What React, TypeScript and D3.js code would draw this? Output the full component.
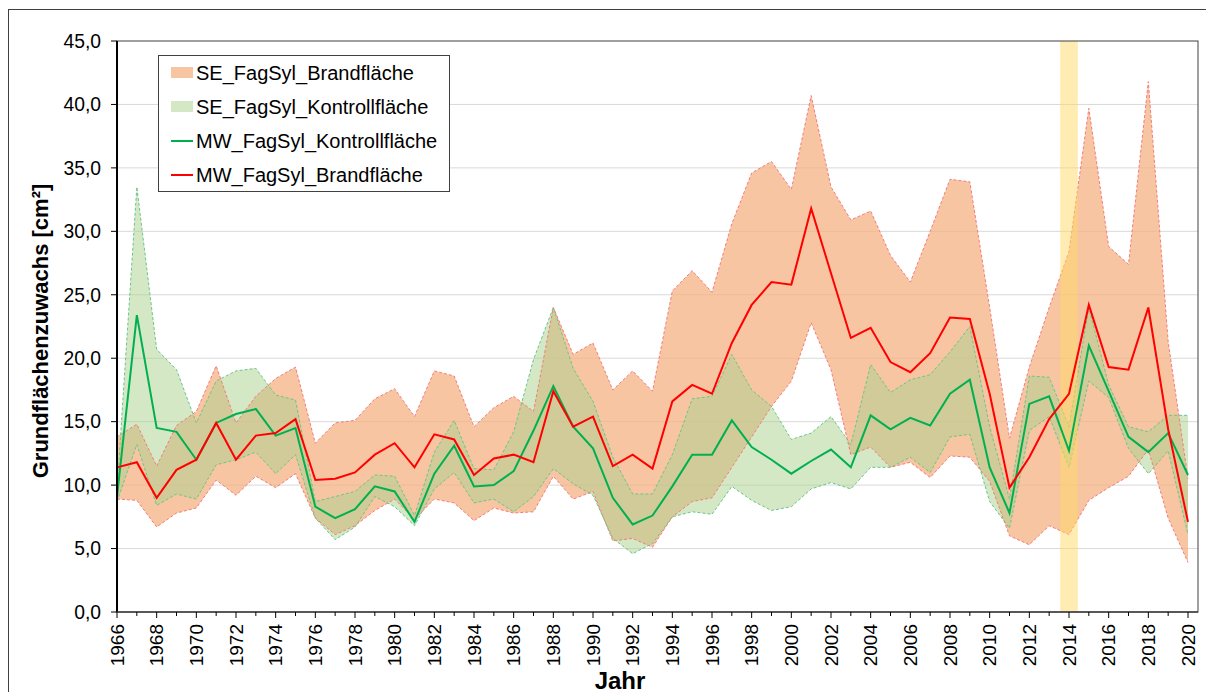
import React, { useEffect, useRef } from 'react';
import * as d3 from 'd3';

// Jahre 1966 - 2020
const years: number[] = d3.range(1966, 2021);

// MW = Mittelwert, SE = Streubereich (oben / unten)
const mwBrand: number[] = [
    11.4, 11.8, 9.0, 11.2, 12.0, 14.9, 12.0, 13.9, 14.1, 15.2,
    10.4, 10.5, 11.0, 12.4, 13.3, 11.4, 14.0, 13.6, 10.8, 12.1,
    12.4, 11.8, 17.4, 14.6, 15.4, 11.5, 12.4, 11.3, 16.6, 17.9,
    17.2, 21.2, 24.2, 26.0, 25.8, 31.8, 26.7, 21.6, 22.4, 19.7,
    18.9, 20.4, 23.2, 23.1, 17.2, 9.8, 12.2, 15.2, 17.2, 24.2,
    19.3, 19.1, 24.0, 14.4, 7.1,
];
const mwKontroll: number[] = [
    9.1, 23.4, 14.5, 14.2, 12.0, 14.9, 15.6, 16.0, 13.9, 14.5,
    8.3, 7.4, 8.1, 9.9, 9.5, 7.1, 10.9, 13.1, 9.9, 10.0,
    11.1, 14.3, 17.8, 14.6, 12.9, 9.0, 6.9, 7.6, 9.9, 12.4,
    12.4, 15.1, 13.0, 12.0, 10.9, 11.9, 12.8, 11.4, 15.5, 14.4,
    15.3, 14.7, 17.2, 18.3, 11.4, 7.8, 16.4, 17.0, 12.7, 21.0,
    17.4, 13.8, 12.6, 14.1, 10.8,
];
const seBrandHi: number[] = [
    13.8, 14.8, 11.5, 14.7, 15.8, 19.4, 14.9, 17.0, 18.4, 19.3,
    13.3, 14.9, 15.1, 16.8, 17.6, 15.4, 19.0, 18.6, 14.6, 16.1,
    17.0, 15.8, 24.0, 20.3, 21.2, 17.5, 19.0, 17.4, 25.3, 26.9,
    25.2, 30.6, 34.6, 35.5, 33.3, 40.7, 33.5, 30.9, 31.6, 28.1,
    26.0, 30.0, 34.1, 33.9, 24.0, 13.7, 19.3, 24.0, 28.4, 39.7,
    28.8, 27.4, 41.8, 21.3, 10.5,
];
const seBrandLo: number[] = [
    8.9, 8.8, 6.7, 7.8, 8.2, 10.4, 9.2, 10.7, 9.8, 10.9,
    7.4, 6.1, 6.8, 8.0, 8.9, 7.3, 8.9, 8.6, 7.2, 8.2,
    7.8, 7.9, 10.7, 8.9, 9.5, 5.6, 5.8, 5.1, 7.5, 8.7,
    9.0, 11.4, 13.8, 16.2, 18.2, 22.8, 19.1, 12.4, 13.0, 11.4,
    11.8, 10.6, 12.3, 12.2, 10.3, 6.0, 5.3, 6.8, 6.1, 8.8,
    9.8, 10.7, 12.8, 7.4, 3.9,
];
const seKontrollHi: number[] = [
    9.6, 33.5, 20.7, 19.1, 14.9, 18.2, 19.0, 19.2, 17.1, 16.7,
    8.7, 9.1, 9.5, 10.8, 10.7, 7.6, 12.6, 15.1, 11.3, 11.2,
    14.2, 19.9, 24.0, 19.2, 16.6, 12.2, 9.3, 9.3, 12.4, 16.8,
    17.0, 20.3, 17.5, 16.2, 13.6, 14.1, 15.4, 13.2, 19.5, 17.3,
    18.3, 18.7, 20.5, 22.5, 14.6, 8.9, 18.6, 18.5, 14.6, 24.0,
    17.9, 14.6, 14.2, 15.5, 15.5,
];
const seKontrollLo: number[] = [
    8.7, 13.2, 8.4, 9.3, 8.9, 11.6, 12.0, 12.6, 10.9, 12.4,
    7.4, 5.7, 6.7, 9.1, 8.3, 6.8, 9.7, 11.0, 8.6, 8.9,
    7.9, 9.1, 11.3, 10.1, 9.2, 5.8, 4.6, 5.4, 7.5, 7.9,
    7.7, 9.9, 8.8, 8.0, 8.3, 9.7, 10.2, 9.7, 11.4, 11.4,
    12.2, 11.0, 13.8, 14.0, 8.7, 6.6, 14.3, 15.4, 11.4, 18.2,
    16.9, 12.9, 10.9, 12.7, 6.1,
];
const yTicks: number[] = [0, 5, 10, 15, 20, 25, 30, 35, 40, 45];
const highlightYear = 2014;

const legendItems = [
    { label: 'SE_FagSyl_Brandfläche', kind: 'area', color: '#F7C5A2' },
    { label: 'SE_FagSyl_Kontrollfläche', kind: 'area', color: '#D4E8C6' },
    { label: 'MW_FagSyl_Kontrollfläche', kind: 'line', color: '#00B050' },
    { label: 'MW_FagSyl_Brandfläche', kind: 'line', color: '#FF0000' },
];

const FONT = '"Liberation Sans", Arial, sans-serif';

const Chart: React.FC<{ width: number; height: number }> = ({ width, height }) => {
    const svgRef = useRef<SVGSVGElement>(null);

    useEffect(() => {
        if (!svgRef.current) return;
        const svg = d3.select(svgRef.current);
        svg.selectAll('*').remove();

        const left = 117, right = 1198, top = 41, bottom = 612;

        const x = d3.scaleLinear().domain([1966, 2020]).range([left, 1188]);
        const y = d3.scaleLinear().domain([0, 45]).range([bottom, top]);

        // outer frame
        svg.append('rect')
            .attr('x', 8.5).attr('y', 9.5)
            .attr('width', 1220).attr('height', 710)
            .attr('fill', 'white').attr('stroke', '#404040');

        // grid
        svg.append('g')
            .selectAll('line')
            .data(yTicks.filter(t => t > 0 && t < 45))
            .join('line')
            .attr('x1', left).attr('x2', right)
            .attr('y1', d => y(d)).attr('y2', d => y(d))
            .attr('stroke', '#d9d9d9').attr('stroke-width', 1);

        const idx = years.map((_, i) => i);

        const area = (hi: number[], lo: number[]) => d3.area<number>()
            .x(i => x(years[i]))
            .y0(i => y(lo[i]))
            .y1(i => y(hi[i]));

        const line = (vals: number[]) => d3.line<number>()
            .x(i => x(years[i]))
            .y(i => y(vals[i]));

        // Streubereich Brandfläche
        svg.append('path')
            .datum(idx)
            .attr('d', area(seBrandHi, seBrandLo))
            .attr('fill', '#F4B183').attr('fill-opacity', 0.75);

        // Streubereich Kontrollfläche
        svg.append('path')
            .datum(idx)
            .attr('d', area(seKontrollHi, seKontrollLo))
            .attr('fill', '#A9D18E').attr('fill-opacity', 0.5);

        [seBrandHi, seBrandLo].forEach(vals => {
            svg.append('path')
                .datum(idx)
                .attr('d', line(vals))
                .attr('fill', 'none')
                .attr('stroke', '#F47C7C').attr('stroke-width', 1)
                .attr('stroke-dasharray', '3,2');
        });
        [seKontrollHi, seKontrollLo].forEach(vals => {
            svg.append('path')
                .datum(idx)
                .attr('d', line(vals))
                .attr('fill', 'none')
                .attr('stroke', '#6CC58A').attr('stroke-width', 1)
                .attr('stroke-dasharray', '3,2');
        });

        // Markierung 2014
        svg.append('rect')
            .attr('x', x(highlightYear) - 8.8).attr('y', top)
            .attr('width', 17.6).attr('height', bottom - top)
            .attr('fill', '#FFD966').attr('fill-opacity', 0.5);

        // Mittelwerte
        svg.append('path')
            .datum(idx)
            .attr('d', line(mwKontroll))
            .attr('fill', 'none')
            .attr('stroke', '#00B050').attr('stroke-width', 2);
        svg.append('path')
            .datum(idx)
            .attr('d', line(mwBrand))
            .attr('fill', 'none')
            .attr('stroke', '#FF0000').attr('stroke-width', 2);

        // plot border
        svg.append('rect')
            .attr('x', left).attr('y', top)
            .attr('width', right - left).attr('height', bottom - top)
            .attr('fill', 'none').attr('stroke', '#404040').attr('stroke-width', 1);

        // y axis
        const fmt = d3.format('.1f');
        const yAxis = svg.append('g');
        yAxis.append('line')
            .attr('x1', left).attr('x2', left)
            .attr('y1', top).attr('y2', bottom)
            .attr('stroke', '#000').attr('stroke-width', 2);
        yAxis.selectAll('line.tick')
            .data(yTicks)
            .join('line')
            .attr('class', 'tick')
            .attr('x1', left - 6).attr('x2', left)
            .attr('y1', d => y(d)).attr('y2', d => y(d))
            .attr('stroke', '#000');
        yAxis.selectAll('text')
            .data(yTicks)
            .join('text')
            .attr('x', 101)
            .attr('y', d => y(d))
            .attr('dy', '0.35em')
            .attr('text-anchor', 'end')
            .attr('font-family', FONT).attr('font-size', 19.3)
            .attr('fill', '#000')
            .text(d => fmt(d).replace('.', ','));

        // x axis
        const xAxis = svg.append('g');
        xAxis.append('line')
            .attr('x1', left).attr('x2', right)
            .attr('y1', bottom).attr('y2', bottom)
            .attr('stroke', '#404040').attr('stroke-width', 1.5);
        xAxis.selectAll('line.tick')
            .data(years)
            .join('line')
            .attr('class', 'tick')
            .attr('x1', d => x(d)).attr('x2', d => x(d))
            .attr('y1', bottom).attr('y2', d => bottom + (d % 2 === 0 ? 6 : 4))
            .attr('stroke', '#000');
        xAxis.selectAll('text')
            .data(years.filter(d => d % 2 === 0))
            .join('text')
            .attr('transform', d => `translate(${x(d)},${bottom + 12}) rotate(-90)`)
            .attr('dy', '0.35em')
            .attr('text-anchor', 'end')
            .attr('font-family', FONT).attr('font-size', 19)
            .attr('fill', '#000')
            .text(d => String(d));

        // axis titles
        svg.append('text')
            .attr('transform', 'translate(48,331) rotate(-90)')
            .attr('text-anchor', 'middle')
            .attr('font-family', FONT).attr('font-size', 22).attr('font-weight', 'bold')
            .text('Grundflächenzuwachs [cm²]');
        svg.append('text')
            .attr('x', 620).attr('y', 689)
            .attr('text-anchor', 'middle')
            .attr('font-family', FONT).attr('font-size', 24).attr('font-weight', 'bold')
            .text('Jahr');

        // legend
        const lg = svg.append('g');
        lg.append('rect')
            .attr('x', 158.5).attr('y', 55.5)
            .attr('width', 291).attr('height', 136)
            .attr('fill', 'white').attr('stroke', '#404040');
        legendItems.forEach((item, i) => {
            const cy = 73 + i * 34;
            if (item.kind === 'area') {
                lg.append('rect')
                    .attr('x', 171).attr('y', cy - 6)
                    .attr('width', 22).attr('height', 11)
                    .attr('fill', item.color);
            } else {
                lg.append('line')
                    .attr('x1', 171).attr('x2', 193)
                    .attr('y1', cy).attr('y2', cy)
                    .attr('stroke', item.color).attr('stroke-width', 2);
            }
            lg.append('text')
                .attr('x', 196).attr('y', cy)
                .attr('dy', '0.35em')
                .attr('font-family', FONT).attr('font-size', 20)
                .attr('fill', '#000')
                .text(item.label);
        });
    }, [width, height]);

    return <svg ref={svgRef} width={width} height={height} style={{ display: 'block' }}></svg>;
};

export default function App() {
    return (
        <div style={{ margin: -8 }}>
            <Chart width={1214} height={700} />
        </div>
    );
}
